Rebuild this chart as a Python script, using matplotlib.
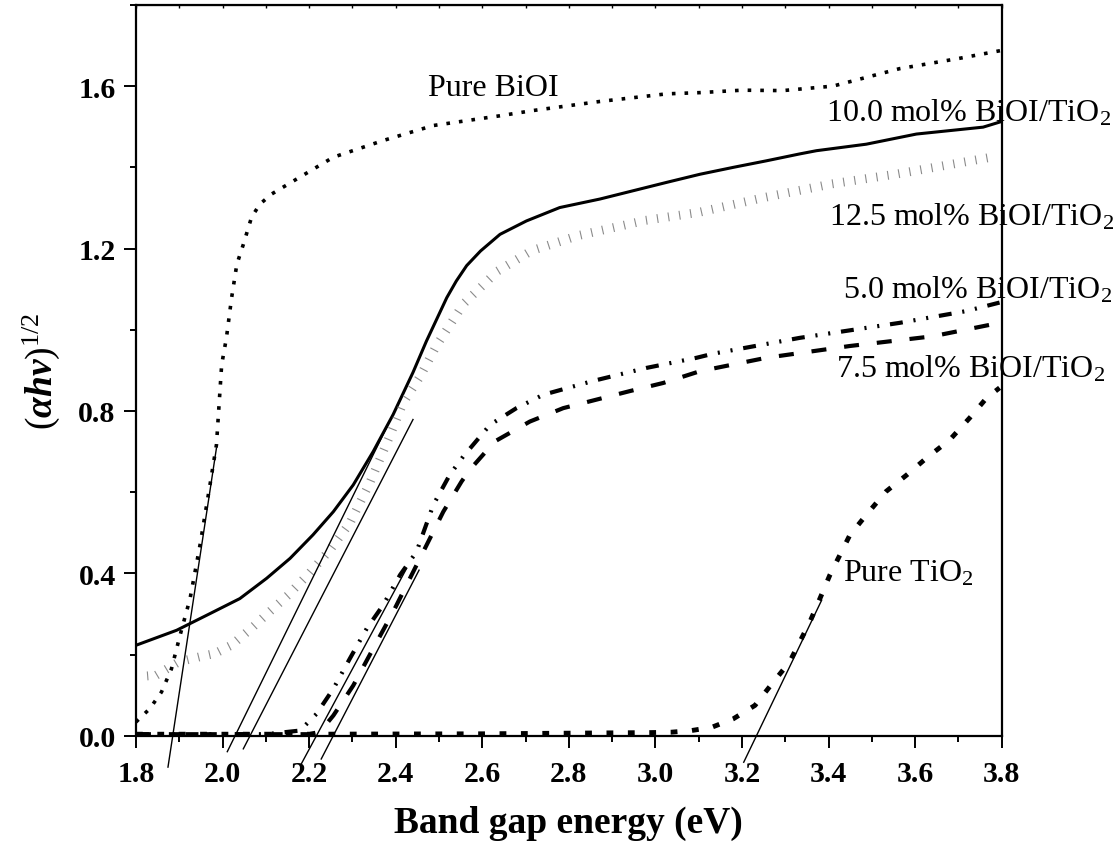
import numpy as np
import matplotlib
matplotlib.use("Agg")
import matplotlib.pyplot as plt
import matplotlib.patheffects as pe
from matplotlib.ticker import MultipleLocator, FormatStrFormatter

plt.rcParams['font.family'] = ['Liberation Serif', 'DejaVu Serif']
plt.rcParams['mathtext.fontset'] = 'custom'
plt.rcParams['mathtext.rm'] = 'Liberation Serif'
plt.rcParams['mathtext.it'] = 'Liberation Serif:italic:bold'
plt.rcParams['mathtext.bf'] = 'Liberation Serif:bold'

# curves
bioi_x = [1.80, 1.832, 1.859, 1.882, 1.902, 1.925, 1.948, 1.971, 1.986, 1.998, 2.009, 2.021,
          2.033, 2.048, 2.067, 2.086, 2.113, 2.171, 2.256, 2.371, 2.487, 2.641, 2.718,
          2.87, 3.026, 3.103, 3.2, 3.294, 3.41, 3.564, 3.70, 3.80]
bioi_y = [0.034, 0.067, 0.108, 0.165, 0.248, 0.338, 0.470, 0.618, 0.717, 0.914, 0.98, 1.079,
          1.161, 1.21, 1.277, 1.309, 1.334, 1.371, 1.425, 1.466, 1.503, 1.527, 1.54,
          1.562, 1.581, 1.584, 1.590, 1.589, 1.60, 1.643, 1.668, 1.688]

s100_x = [1.80, 1.894, 1.971, 2.04, 2.102, 2.156, 2.209, 2.256, 2.302, 2.348, 2.394, 2.44,
          2.471, 2.518, 2.54, 2.564, 2.596, 2.641, 2.702, 2.779, 2.872, 3.026, 3.103,
          3.18, 3.256, 3.333, 3.372, 3.487, 3.603, 3.757, 3.80]
s100_y = [0.223, 0.26, 0.301, 0.338, 0.388, 0.437, 0.495, 0.552, 0.618, 0.70, 0.791, 0.895,
          0.972, 1.079, 1.12, 1.158, 1.194, 1.235, 1.268, 1.301, 1.322, 1.363, 1.383,
          1.40, 1.416, 1.433, 1.441, 1.457, 1.482, 1.499, 1.513]

s125_x = [1.815, 1.85, 1.902, 1.948, 1.986, 2.025, 2.071, 2.109, 2.156, 2.209, 2.256, 2.302,
          2.348, 2.394, 2.425, 2.464, 2.502, 2.564, 2.641, 2.718, 2.825, 2.979, 3.103,
          3.256, 3.41, 3.564, 3.78]
s125_y = [0.137, 0.14, 0.173, 0.185, 0.194, 0.215, 0.256, 0.293, 0.338, 0.396, 0.453, 0.519,
          0.618, 0.733, 0.815, 0.88, 0.956, 1.058, 1.137, 1.186, 1.223, 1.26, 1.28,
          1.317, 1.35, 1.375, 1.416]

s50_x = [1.80, 1.95, 2.10, 2.179, 2.217, 2.256, 2.294, 2.333, 2.371, 2.41, 2.448, 2.487,
         2.525, 2.556, 2.618, 2.679, 2.741, 2.856, 2.979, 3.095, 3.133, 3.333, 3.564,
         3.718, 3.795]
s50_y = [0.004, 0.004, 0.004, 0.013, 0.054, 0.116, 0.19, 0.264, 0.322, 0.396, 0.453, 0.569,
         0.643, 0.688, 0.766, 0.807, 0.84, 0.874, 0.906, 0.931, 0.941, 0.98, 1.017,
         1.046, 1.067]

s75_x = [1.80, 1.95, 2.10, 2.20, 2.225, 2.256, 2.302, 2.348, 2.394, 2.433, 2.479, 2.51,
         2.552, 2.571, 2.629, 2.71, 2.787, 2.864, 2.941, 3.018, 3.103, 3.256, 3.449,
         3.641, 3.795]
s75_y = [0.004, 0.004, 0.004, 0.004, 0.01, 0.05, 0.124, 0.215, 0.305, 0.388, 0.486, 0.552,
         0.626, 0.655, 0.725, 0.774, 0.807, 0.828, 0.849, 0.869, 0.898, 0.931, 0.96,
         0.984, 1.017]

tio2_x = [1.80, 2.2, 2.6, 2.99, 3.037, 3.083, 3.13, 3.18, 3.23, 3.272, 3.31, 3.357, 3.38,
          3.403, 3.426, 3.449, 3.487, 3.533, 3.58, 3.626, 3.68, 3.726, 3.765, 3.795]
tio2_y = [0.004, 0.004, 0.005, 0.008, 0.009, 0.013, 0.021, 0.042, 0.075, 0.132, 0.182,
          0.281, 0.338, 0.396, 0.445, 0.494, 0.544, 0.602, 0.642, 0.684, 0.729, 0.783,
          0.832, 0.857]

# tangent (band gap) lines: start and end points
fit_x0 = [1.874, 2.011, 2.048, 2.182, 2.228, 3.204]
fit_y0 = [-0.077, -0.039, -0.032, -0.069, -0.057, -0.065]
fit_x1 = [1.986, 2.424, 2.44, 2.425, 2.454, 3.384]
fit_y1 = [0.709, 0.857, 0.779, 0.412, 0.408, 0.334]

labels = ['Pure BiOI', '10.0 mol% BiOI/TiO$_2$', '12.5 mol% BiOI/TiO$_2$',
          '5.0 mol% BiOI/TiO$_2$', '7.5 mol% BiOI/TiO$_2$', 'Pure TiO$_2$']
label_x = [2.474, 3.395, 3.40, 3.433, 3.418, 3.434]
label_y = [1.579, 1.516, 1.26, 1.079, 0.886, 0.383]

fig = plt.figure(figsize=(11.18, 8.45), dpi=100)
ax = fig.add_axes([0.1216, 0.128, 0.896 - 0.1216, 0.993 - 0.128])

ax.plot(bioi_x, bioi_y, color='k', lw=2.6, dashes=(1, 2.5), dash_capstyle='butt')
ax.plot(s100_x, s100_y, color='k', lw=2.2, solid_joinstyle='round')
ax.plot(s125_x, s125_y, color='#8a8a8a', lw=0.8,
        path_effects=[pe.TickedStroke(spacing=8, angle=90, length=0.7)])
ax.plot(s50_x, s50_y, color='k', lw=3.0, dashes=(3.1, 2.6, 0.5, 2.6, 0.5, 2.6),
        dash_capstyle='butt')
ax.plot(s75_x, s75_y, color='k', lw=3.0, dashes=(3.6, 4.3), dash_capstyle='butt')
ax.plot(tio2_x, tio2_y, color='k', lw=3.5, dashes=(1.4, 3.0), dash_capstyle='butt')

for x0, y0, x1, y1 in zip(fit_x0, fit_y0, fit_x1, fit_y1):
    ax.plot([x0, x1], [y0, y1], color='k', lw=1.0, clip_on=False)

for t, x, y in zip(labels, label_x, label_y):
    ax.text(x, y, t, fontsize=23, va='baseline', ha='left', clip_on=False)

ax.set_xlim(1.8, 3.8)
ax.set_ylim(0, 1.8)
ax.xaxis.set_major_locator(MultipleLocator(0.2))
ax.xaxis.set_minor_locator(MultipleLocator(0.1))
ax.yaxis.set_major_locator(MultipleLocator(0.4))
ax.yaxis.set_minor_locator(MultipleLocator(0.2))
ax.xaxis.set_major_formatter(FormatStrFormatter('%.1f'))
ax.yaxis.set_major_formatter(FormatStrFormatter('%.1f'))

for s in ax.spines.values():
    s.set_linewidth(1.6)
ax.tick_params(which='major', direction='out', length=8.6, width=1.4, pad=6)
ax.tick_params(axis='x', which='major', pad=9)
ax.tick_params(which='minor', direction='out', length=4.3, width=1.4)
ax.tick_params(right=False, top=False)
for lab in ax.get_xticklabels() + ax.get_yticklabels():
    lab.set_fontsize(21.5)
    lab.set_fontweight('bold')

top = ax.secondary_xaxis('top')
top.xaxis.set_major_locator(MultipleLocator(0.1))
top.tick_params(direction='in', length=2, width=1, labeltop=False)

ax.set_xlabel('Band gap energy (eV)', fontsize=27, fontweight='bold', labelpad=13)
ax.set_ylabel(r'$(\alpha h\nu)^{1/2}$', fontsize=27, labelpad=12)

fig.savefig('out.png', dpi=100)
